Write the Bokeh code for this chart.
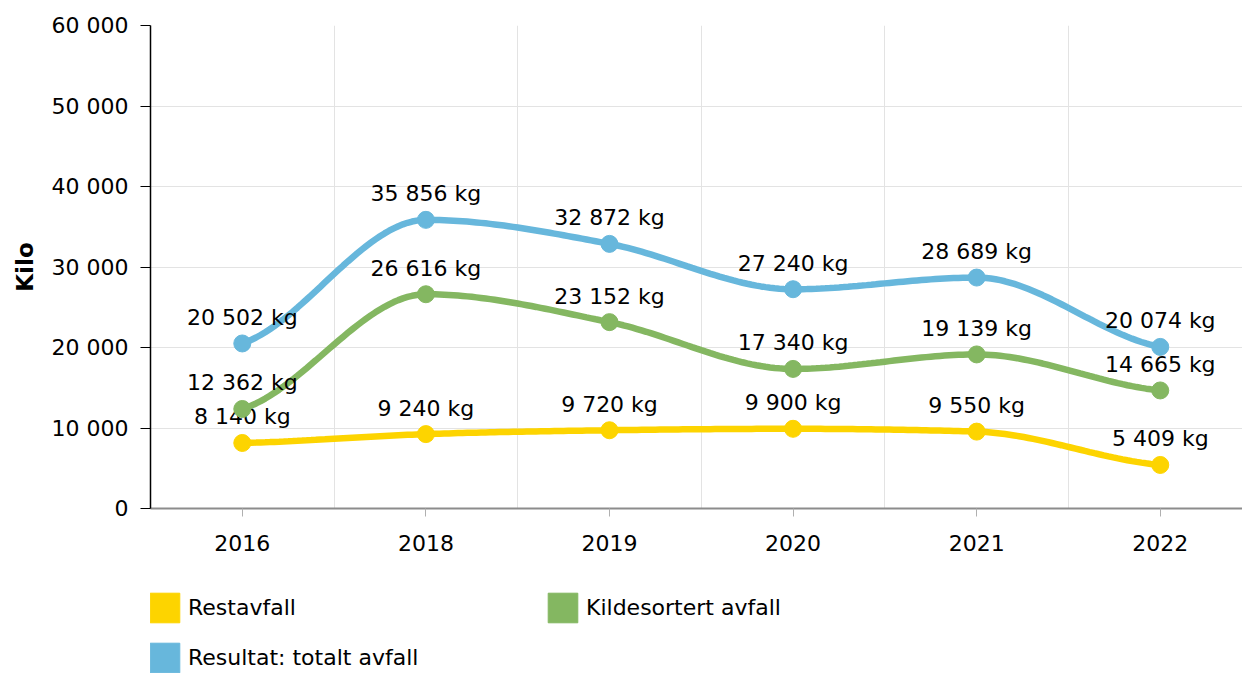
import numpy as np
from bokeh.plotting import figure
from bokeh.layouts import column
from bokeh.models import ColumnDataSource, FixedTicker, Legend, LegendItem, Range1d
from bokeh.core.properties import value
from bokeh.embed import file_html
from bokeh.resources import INLINE

# ---- data ----
years = ["2016", "2018", "2019", "2020", "2021", "2022"]
restavfall = [8140, 9240, 9720, 9900, 9550, 5409]
kildesortert = [12362, 26616, 23152, 17340, 19139, 14665]
totalt = [20502, 35856, 32872, 27240, 28689, 20074]
series_names = ["Restavfall", "Kildesortert avfall", "Resultat: totalt avfall"]
y_ticks = [0, 10000, 20000, 30000, 40000, 50000, 60000]
y_tick_labels = ["0", "10 000", "20 000", "30 000", "40 000", "50 000", "60 000"]
colors = ["#fdd400", "#84b761", "#67b7dc"]

FONT = "DejaVu Sans"
FS = "22px"


def fmt(v):
    return f"{v:,}".replace(",", " ") + " kg"


def smooth(ys, n=40):
    """Monotone cubic curve through the points (drawing only)."""
    ys = np.asarray(ys, dtype=float)
    k = len(ys)
    s = np.diff(ys)
    m = np.zeros(k)
    for i in range(1, k - 1):
        s0, s1 = s[i - 1], s[i]
        if s0 * s1 <= 0:
            m[i] = 0.0
        else:
            pp = (s0 + s1) / 2.0
            m[i] = np.sign(s0) * 2 * min(abs(s0), abs(s1), 0.5 * abs(pp))
    m[0] = 0.5 * s[0]
    m[-1] = 0.5 * s[-1]
    xs_out, ys_out = [], []
    for i in range(k - 1):
        t = np.linspace(0, 1, n, endpoint=(i == k - 2))
        h00 = 2 * t**3 - 3 * t**2 + 1
        h10 = t**3 - 2 * t**2 + t
        h01 = -2 * t**3 + 3 * t**2
        h11 = t**3 - t**2
        yy = h00 * ys[i] + h10 * m[i] + h01 * ys[i + 1] + h11 * m[i + 1]
        xs_out.extend(list(i + t))
        ys_out.extend(list(yy))
    return xs_out, ys_out


p = figure(frame_width=1092, frame_height=483,
           x_range=Range1d(-0.5, 5.448), y_range=Range1d(0, 60000),
           output_backend="svg", toolbar_location=None,
           min_border_left=150, min_border_right=0,
           min_border_top=25, min_border_bottom=52)
p.outline_line_color = None
p.background_fill_color = "white"

xpos = list(range(len(years)))

# axes
p.xaxis.ticker = FixedTicker(ticks=xpos)
p.xaxis.major_label_overrides = {i: y for i, y in zip(xpos, years)}
p.yaxis.ticker = FixedTicker(ticks=y_ticks)
p.yaxis.major_label_overrides = {t: l for t, l in zip(y_ticks, y_tick_labels)}
for ax in (p.xaxis, p.yaxis):
    ax.major_label_text_font = FONT
    ax.major_label_text_font_size = FS
    ax.major_label_text_color = "#000000"
    ax.minor_tick_line_color = None
    ax.major_tick_in = 0
p.xaxis.axis_line_color = "#8c8c8c"
p.xaxis.axis_line_width = 2
p.xaxis.major_tick_line_color = "#b0b0b0"
p.xaxis.major_tick_out = 8
p.xaxis.major_label_standoff = 18
p.yaxis.axis_line_color = "#000000"
p.yaxis.axis_line_width = 1.5
p.yaxis.major_tick_line_color = "#000000"
p.yaxis.major_tick_out = 10
p.yaxis.major_label_standoff = 12
p.yaxis.axis_label = "Kilo"
p.yaxis.axis_label_text_font = FONT
p.yaxis.axis_label_text_font_size = "23px"
p.yaxis.axis_label_text_font_style = "bold"
p.yaxis.axis_label_text_color = "#000000"
p.yaxis.axis_label_standoff = 11

p.xgrid.ticker = FixedTicker(ticks=[i + 0.5 for i in xpos[:-1]])
p.xgrid.grid_line_color = "#e3e3e3"
p.ygrid.grid_line_color = "#e3e3e3"

# legend panel (separate figure below the chart)
lg = figure(width=1242, height=113, x_range=Range1d(0, 1242), y_range=Range1d(0, 113),
            output_backend="svg", toolbar_location=None, min_border=0)
lg.axis.visible = False
lg.grid.visible = False
lg.outline_line_color = None

# series
legend_items = []
for name, vals, col in zip(series_names, [restavfall, kildesortert, totalt], colors):
    sx, sy = smooth(vals)
    p.line(sx, sy, line_width=6.5, line_color=col, line_cap="round")
    src = ColumnDataSource(dict(x=xpos, y=vals, t=[fmt(v) for v in vals]))
    p.scatter("x", "y", source=src, size=17, fill_color=col, line_color=col)
    p.text("x", "y", text="t", source=src, text_align="center", text_baseline="middle",
           y_offset=-26, text_font=value(FONT), text_font_size=FS, text_color="#000000")
    dummy = lg.quad(left=[-10], right=[-10], top=[-10], bottom=[-10], fill_color=col, line_color=col)
    legend_items.append(LegendItem(label=name, renderers=[dummy]))

common = dict(glyph_width=37, glyph_height=37, label_standoff=5, label_width=340,
              spacing=16, padding=0, margin=0, border_line_color=None,
              background_fill_alpha=0, orientation="horizontal",
              label_text_font=FONT, label_text_font_size=FS, label_text_color="#000000")
leg1 = Legend(items=legend_items[:2], location=(-4, 47.5), **common)
leg2 = Legend(items=legend_items[2:], location=(-4, -2.5), **common)
lg.add_layout(leg1)
lg.add_layout(leg2)

open("out.html", "w").write(file_html(column(p, lg, spacing=0), INLINE))
